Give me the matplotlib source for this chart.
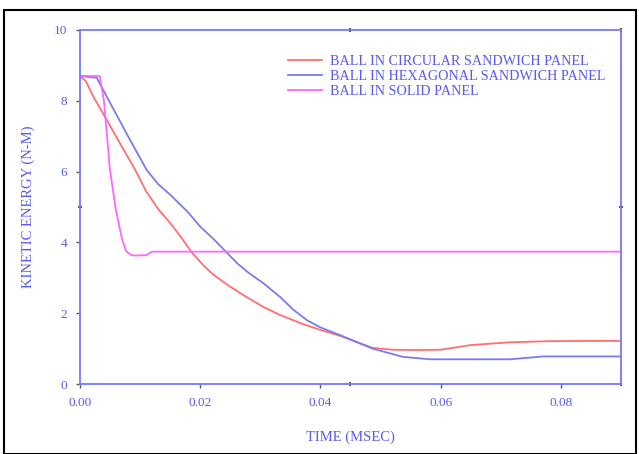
import matplotlib
matplotlib.use("Agg")
import matplotlib.pyplot as plt
from matplotlib.patches import Rectangle

# Circular sandwich panel
t_circ = [0.0, 0.001, 0.0023, 0.005, 0.0075, 0.0092, 0.011, 0.013, 0.015, 0.0166,
          0.0186, 0.0205, 0.0221, 0.025, 0.0278, 0.0305, 0.0333, 0.037, 0.040,
          0.0433, 0.0487, 0.052, 0.056, 0.060, 0.0649, 0.0715, 0.0777, 0.085, 0.090]
e_circ = [8.7, 8.55, 8.1, 7.3, 6.55, 6.05, 5.45, 4.95, 4.55, 4.2,
          3.72, 3.36, 3.1, 2.75, 2.45, 2.18, 1.95, 1.7, 1.53,
          1.36, 1.02, 0.97, 0.96, 0.97, 1.1, 1.18, 1.21, 1.22, 1.22]

# Hexagonal sandwich panel
t_hex = [0.0, 0.0028, 0.005, 0.008, 0.0111, 0.013, 0.015, 0.018, 0.020, 0.0225,
         0.0245, 0.0261, 0.028, 0.0305, 0.0333, 0.0355, 0.0378, 0.040, 0.0433,
         0.0487, 0.0537, 0.0582, 0.065, 0.0715, 0.077, 0.090]
e_hex = [8.7, 8.65, 7.95, 7.0, 6.05, 5.65, 5.35, 4.85, 4.45, 4.05,
         3.7, 3.42, 3.15, 2.85, 2.46, 2.1, 1.8, 1.6, 1.38,
         1.0, 0.77, 0.7, 0.7, 0.7, 0.78, 0.78]

# Solid panel
t_solid = [0.0, 0.0033, 0.004, 0.005, 0.006, 0.007, 0.0077, 0.0085, 0.009, 0.011,
           0.012, 0.090]
e_solid = [8.7, 8.7, 8.0, 6.05, 4.9, 4.1, 3.75, 3.65, 3.63, 3.64,
           3.74, 3.74]

labels = ["BALL IN CIRCULAR SANDWICH PANEL",
          "BALL IN HEXAGONAL SANDWICH PANEL",
          "BALL IN SOLID PANEL"]

txt_col = "#5a5af0"
ax_col = "#7777ff"

plt.rcParams["font.family"] = ["Liberation Serif", "DejaVu Serif"]

fig = plt.figure(figsize=(6.39, 4.54), dpi=100)
ax = fig.add_axes([0.125, 0.154, 0.847, 0.78])

ax.plot(t_circ, e_circ, color="#ff6f6f", lw=1.3, label=labels[0])
ax.plot(t_hex, e_hex, color="#7b7bf0", lw=1.3, label=labels[1])
ax.plot(t_solid, e_solid, color="#ff66ff", lw=1.3, label=labels[2])

ax.set_xlim(0, 0.09)
ax.set_ylim(0, 10)
ax.set_xticks([0.0, 0.02, 0.04, 0.06, 0.08])
ax.set_xticklabels(["0.00", "0.02", "0.04", "0.06", "0.08"])
ax.set_yticks([0, 2, 4, 6, 8, 10])
ax.set_xticks([0.045, 0.09], minor=True)
ax.set_yticks([5], minor=True)
for s in ax.spines.values():
    s.set_color(ax_col)
    s.set_linewidth(1.3)
ax.tick_params(colors="#555577", labelcolor=txt_col, labelsize=9.5, length=3,
               width=1, pad=6)
ax.tick_params(which="minor", colors="#333333", length=3, width=1.2,
               top=True, right=True, direction="inout")

ax.set_xlabel("TIME (MSEC)", color=txt_col, fontsize=10.5, labelpad=16)
ax.set_ylabel("KINETIC ENERGY (N-M)", color=txt_col, fontsize=10.5, labelpad=14)

leg = ax.legend(loc="upper right", bbox_to_anchor=(0.995, 0.965), frameon=False,
                fontsize=10.2, handlelength=2.4, handletextpad=0.6,
                labelspacing=0.15)
for t in leg.get_texts():
    t.set_color(txt_col)

fig.patches.append(Rectangle((4 / 639, 0.0), 632 / 639, 444 / 454,
                             transform=fig.transFigure, fill=False,
                             edgecolor="black", lw=1.5))

fig.savefig("out.png", dpi=100)
